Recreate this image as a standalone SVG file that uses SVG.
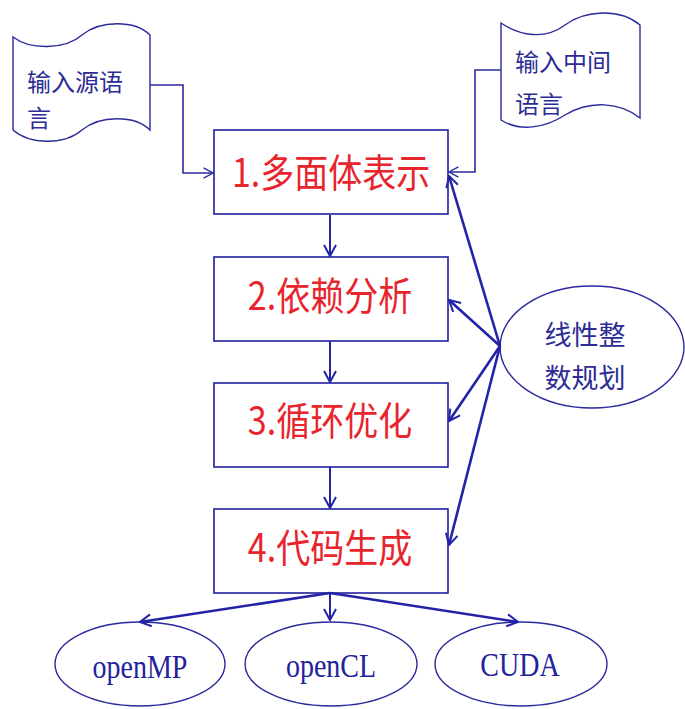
<svg xmlns="http://www.w3.org/2000/svg" width="685" height="709" viewBox="0 0 685 709">
<defs>
<marker id="ah" viewBox="0 0 14 14" refX="13" refY="7" markerWidth="14" markerHeight="14" markerUnits="userSpaceOnUse" orient="auto">
<path d="M2,1 L13,7 L2,13" fill="none" stroke="#2323a8" stroke-width="2"/>
</marker>
<marker id="ahs" viewBox="0 0 14 14" refX="13" refY="7" markerWidth="12" markerHeight="12" markerUnits="userSpaceOnUse" orient="auto">
<path d="M2,1 L13,7 L2,13" fill="none" stroke="#2a2aa0" stroke-width="1.6"/>
</marker>
</defs>
<style>
.box{fill:#fff;stroke:#1e1e9e;stroke-width:1.6}
.shape{fill:#fff;stroke:#2a2a9c;stroke-width:1.4}
.step{font-family:"Noto Sans CJK SC","Noto Sans",sans-serif;font-size:34px;fill:#e8242c;text-anchor:middle}
.cn{font-family:"Noto Sans CJK SC","Noto Sans",sans-serif;font-size:24px;fill:#2c2c94}
.ip{font-family:"Noto Sans CJK SC","Noto Sans",sans-serif;font-size:27px;fill:#2c2c94;text-anchor:middle}
.en{font-family:"Liberation Serif",serif;font-size:28px;fill:#22229a;text-anchor:middle}
.thin{fill:none;stroke:#2a2aa0;stroke-width:1.6}
.thick{fill:none;stroke:#2323a8;stroke-width:2.6}
.mid{fill:none;stroke:#2323a8;stroke-width:2}
</style>
<rect width="685" height="709" fill="#fff"/>

<g id="src">
<path class="shape" d="M13,37 C30,50 65,50 82,35 C100,20 135,20 150,35 L150,130 C135,115 100,115 82,130 C65,145 30,145 13,130 Z"/>
<text class="cn" x="27" y="91">输入源语</text>
<text class="cn" x="27" y="127">言</text>
</g>

<g id="ir">
<path class="shape" d="M501,23 C520,36 545,40 565,25 C585,10 620,8 640,25 L640,118 C620,102 590,100 565,115 C545,128 520,132 501,120 Z"/>
<text class="cn" x="515" y="71">输入中间</text>
<text class="cn" x="515" y="113">语言</text>
</g>

<g id="s1">
<rect class="box" x="214" y="130" width="234" height="84"/>
<text class="step" transform="translate(331,187) scale(1,1.15)">1.多面体表示</text>
</g>
<g id="s2">
<rect class="box" x="214" y="257" width="234" height="84"/>
<text class="step" transform="translate(330,310) scale(1,1.15)">2.依赖分析</text>
</g>
<g id="s3">
<rect class="box" x="214" y="383" width="234" height="84"/>
<text class="step" transform="translate(330,435) scale(1,1.15)">3.循环优化</text>
</g>
<g id="s4">
<rect class="box" x="214" y="509" width="234" height="84"/>
<text class="step" transform="translate(330,562) scale(1,1.15)">4.代码生成</text>
</g>

<g id="ilp">
<ellipse class="shape" cx="592" cy="347" rx="92" ry="61"/>
<text class="ip" x="585" y="345">线性整</text>
<text class="ip" x="585" y="388">数规划</text>
</g>

<g id="omp">
<ellipse class="shape" cx="140" cy="664" rx="85" ry="42"/>
<text class="en" transform="translate(140,678) scale(1,1.2)">openMP</text>
</g>
<g id="ocl">
<ellipse class="shape" cx="331" cy="664" rx="86" ry="42"/>
<text class="en" transform="translate(331,677) scale(1,1.2)">openCL</text>
</g>
<g id="cuda">
<ellipse class="shape" cx="521" cy="664" rx="86" ry="42"/>
<text class="en" transform="translate(520,676) scale(1,1.2)">CUDA</text>
</g>

<g id="connectors">
<polyline class="thin" points="150,85 183,85 183,173 213,173" marker-end="url(#ahs)"/>
<polyline class="thin" points="501,70 475,70 475,172 449,172" marker-end="url(#ahs)"/>
<line class="mid" x1="330" y1="215" x2="330" y2="256" marker-end="url(#ah)"/>
<line class="mid" x1="330" y1="341" x2="330" y2="382" marker-end="url(#ah)"/>
<line class="mid" x1="330" y1="467" x2="330" y2="508" marker-end="url(#ah)"/>
<line class="thick" x1="500" y1="346" x2="449" y2="176" marker-end="url(#ah)"/>
<line class="thick" x1="500" y1="346" x2="449" y2="300" marker-end="url(#ah)"/>
<line class="thick" x1="500" y1="346" x2="449" y2="421" marker-end="url(#ah)"/>
<line class="thick" x1="500" y1="346" x2="449" y2="545" marker-end="url(#ah)"/>
<line class="thick" x1="330" y1="593" x2="140" y2="622" marker-end="url(#ah)"/>
<line class="mid" x1="330" y1="593" x2="330" y2="620" marker-end="url(#ah)"/>
<line class="thick" x1="330" y1="593" x2="518" y2="622" marker-end="url(#ah)"/>
</g>
</svg>
